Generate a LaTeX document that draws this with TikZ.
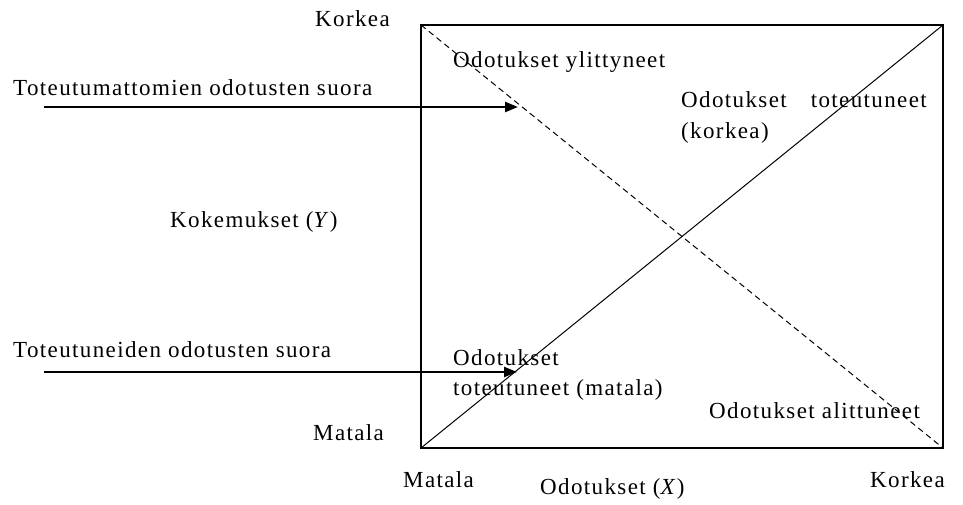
\documentclass[tikz,border=0pt]{standalone}
\usepackage{fontspec}
\setmainfont{Liberation Serif}
\newfontfamily\lblfont[LetterSpace=6]{Liberation Serif}
\usetikzlibrary{arrows.meta}
\begin{document}
\begin{tikzpicture}[x=1pt,y=-1pt,
  lbl/.style={font=\lblfont\fontsize{23}{27}\selectfont, inner sep=0pt, anchor=west},
  boxline/.style={line width=1.5pt},
  diag/.style={line width=1pt},
  pointer/.style={line width=2.4pt, -{Triangle[length=13pt,width=10pt]}}]
\useasboundingbox (0,0) rectangle (963,504);
\coordinate (TL) at (421,25);
\coordinate (TR) at (943,25);
\coordinate (BL) at (421,448);
\coordinate (BR) at (943,448);
\draw[boxline] (TL) -- (TR) -- (BR) -- (BL) -- cycle;
\draw[diag, dashed, dash pattern=on 6pt off 4pt] (TL) -- (BR);
\draw[diag] (BL) -- (TR);
\coordinate (a1s) at (44,107);
\coordinate (a1e) at (518,107);
\coordinate (a2s) at (44,372);
\coordinate (a2e) at (517,372);
\draw[pointer] (a1s) -- (a1e);
\draw[pointer] (a2s) -- (a2e);
\node[lbl] (korkeaY) at (315,19) {Korkea};
\node[lbl] (tmo) at (13,88) {Toteutumattomien odotusten suora};
\node[lbl] (ylit) at (453,62) {Odotukset ylittyneet};
\node[lbl] (totk1) at (681,100) {Odotukset\hspace{24pt}toteutuneet};
\node[lbl] (totk2) at (681,133) {(korkea)};
\node[lbl] (koke) at (170,222) {Kokemukset (\textit{Y})};
\node[lbl] (tto) at (13,350) {Toteutuneiden odotusten suora};
\node[lbl] (totm1) at (453,358) {Odotukset};
\node[lbl] (totm2) at (453,390) {toteutuneet (matala)};
\node[lbl] (alit) at (709,411) {Odotukset alittuneet};
\node[lbl] (matY) at (313,433) {Matala};
\node[lbl] (matX) at (403,480) {Matala};
\node[lbl] (odX) at (540,489) {Odotukset (\textit{X})};
\node[lbl] (korkX) at (870,480) {Korkea};
\end{tikzpicture}
\end{document}
